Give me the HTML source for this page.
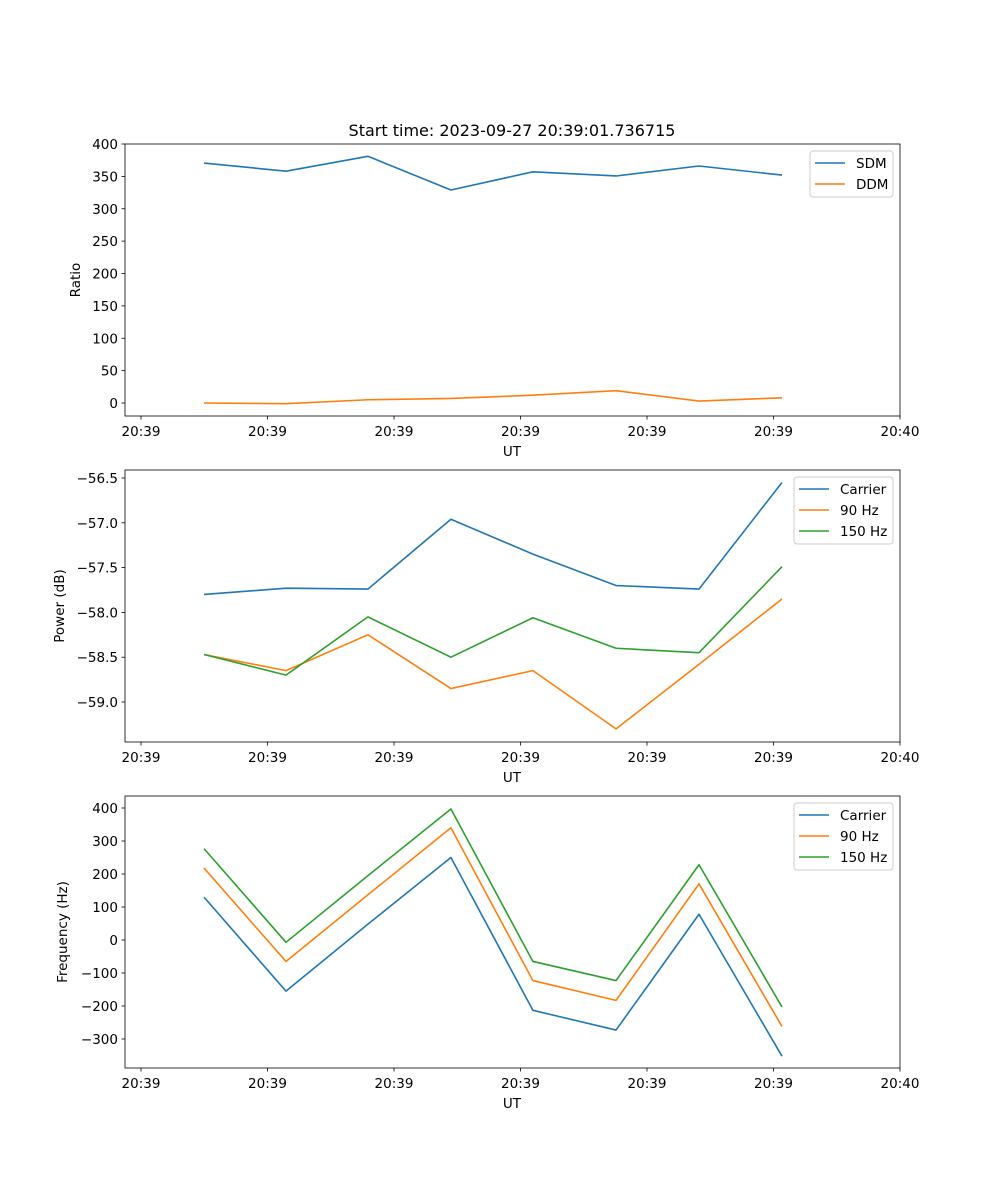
<!DOCTYPE html>
<html><head><meta charset="utf-8"><style>
html,body{margin:0;padding:0;background:#fff}
svg{display:block;font-family:"DejaVu Sans","Liberation Sans",sans-serif}
</style></head><body>
<svg id="fig" width="1000" height="1200" viewBox="0 0 1000 1200">
<text x="512" y="136" text-anchor="middle" font-size="16">Start time: 2023-09-27 20:39:01.736715</text>
</svg>
<script>
// shared x data (seconds after 20:39:00)
const times = [4.98, 11.46, 17.94, 24.5, 30.98, 37.55, 44.11, 50.67];
const xTickVals = [0, 10, 20, 30, 40, 50, 60];
const xTickLabels = ["20:39","20:39","20:39","20:39","20:39","20:39","20:40"];
// panel 1
const ratioTicks = [0,50,100,150,200,250,300,350,400];
const sdm = [370.6, 358, 381, 329, 357, 350.6, 366, 352];
const ddm = [0, -1, 5, 7, 12, 19, 3, 8];
// panel 2
const powerTicks = [-59.0,-58.5,-58.0,-57.5,-57.0,-56.5];
const powerCarrier = [-57.8, -57.73, -57.74, -56.96, -57.35, -57.7, -57.74, -56.55];
const power90 = [-58.47, -58.65, -58.25, -58.85, -58.65, -59.3, -58.58, -57.85];
const power150 = [-58.47, -58.7, -58.05, -58.5, -58.06, -58.4, -58.45, -57.49];
// panel 3
const freqTicks = [-300,-200,-100,0,100,200,300,400];
const freqCarrier = [130, -155, 48, 250, -213, -273, 78, -352];
const freq90 = [218, -65, 137, 340, -123, -183, 170, -262];
const freq150 = [277, -7, 195, 397, -65, -123, 228, -203];

const NS="http://www.w3.org/2000/svg";
const svg=document.getElementById('fig');
function mk(tag,attrs,parent){const e=document.createElementNS(NS,tag);for(const k in attrs)e.setAttribute(k,attrs[k]);(parent||svg).appendChild(e);return e;}
const L=125,R=900;
const xScale=t=>141+(t-0)*(900-141)/60;
const C1="#1f77b4",C2="#ff7f0e",C3="#2ca02c";

function panel(name,top,bottom,y0v,y0p,y1v,y1p,ticks,fmt,ylabel,series,legend){
  const g=mk('g',{});
  
  
  const yS=v=>y0p+(v-y0v)*(y1p-y0p)/(y1v-y0v);
  // ticks y
  ticks.forEach(v=>{
    const y=yS(v);
    const t=mk('line',{x1:L-3.5,x2:L,y1:y,y2:y,stroke:'#000','stroke-width':0.8},g);
    
    
    const tx=mk('text',{x:L-7,y:y+5,'text-anchor':'end','font-size':13.5},g);
    tx.textContent=fmt(v).replace('-','\u2212');
    
    
  });
  xTickVals.forEach((v,i)=>{
    const x=xScale(v);
    mk('line',{x1:x,x2:x,y1:bottom,y2:bottom+3.5,stroke:'#000','stroke-width':0.8},g);
    const tx=mk('text',{x:x,y:bottom+20,'text-anchor':'middle','font-size':13.5},g);
    tx.textContent=xTickLabels[i];
    
    
  });
  const xl=mk('text',{x:512,y:bottom+40,'text-anchor':'middle','font-size':13.5},g);
  xl.textContent='UT';
  
  
  const ym=(top+bottom)/2, yx=ylabel.x;
  const yl=mk('text',{x:yx,y:ym,'text-anchor':'middle','font-size':13.5,transform:`rotate(-90 ${yx} ${ym})`},g);
  yl.textContent=ylabel.t;
  
  
  series.forEach(s=>{
    const p=mk('polyline',{points:s.d.map((v,i)=>xScale(times[i])+','+yS(v)).join(' '),fill:'none',stroke:s.c,'stroke-width':1.6,'stroke-linejoin':'round'},g);
    
    
  });
  const fr=mk('rect',{x:L,y:top,width:R-L,height:bottom-top,fill:'none',stroke:'#000','stroke-width':0.8},g);
  
  
  const lg=mk('g',{},g);
  
  
  mk('rect',{x:legend.x,y:legend.y,width:legend.w,height:legend.h,rx:3,fill:'#fff','fill-opacity':0.8,stroke:'#ccc','stroke-width':1},lg);
  series.forEach((s,i)=>{
    const yy=legend.y+12+i*21;
    mk('line',{x1:legend.x+5,x2:legend.x+35,y1:yy,y2:yy,stroke:s.c,'stroke-width':1.6},lg);
    const t=mk('text',{x:legend.x+46,y:yy+5,'font-size':13.5},lg);
    t.textContent=s.n;
    
    
  });
}
panel('ratio-panel',144,416,0,403,400,144,ratioTicks,v=>String(v),{x:80,t:'Ratio'},
  [{n:'SDM',d:sdm,c:C1},{n:'DDM',d:ddm,c:C2}],{x:810,y:151,w:83,h:46});
panel('power-panel',470,742,-56.5,478,-59.0,702,powerTicks,v=>v.toFixed(1),{x:64,t:'Power (dB)'},
  [{n:'Carrier',d:powerCarrier,c:C1},{n:'90 Hz',d:power90,c:C2},{n:'150 Hz',d:power150,c:C3}],{x:794,y:477,w:99,h:67});
panel('frequency-panel',796,1068,400,808,-300,1039,freqTicks,v=>String(v),{x:67,t:'Frequency (Hz)'},
  [{n:'Carrier',d:freqCarrier,c:C1},{n:'90 Hz',d:freq90,c:C2},{n:'150 Hz',d:freq150,c:C3}],{x:794,y:803,w:99,h:67});
</script>
</body></html>
